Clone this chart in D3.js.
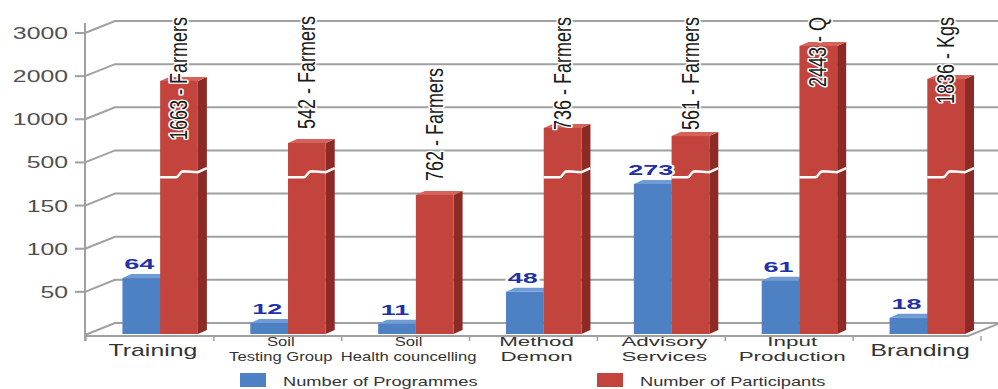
<!DOCTYPE html>
<html><head><meta charset="utf-8">
<script src="https://cdn.jsdelivr.net/npm/d3@7"></script>
<style>
html,body{margin:0;padding:0;background:#fff;}
svg{display:block;font-family:"Liberation Sans",Arial,sans-serif;}
</style>
</head><body>
<svg id="chart" width="998" height="389"></svg>
<script>
// ---------- data ----------
const categories = [["Training"],["Soil","Testing Group"],["Soil","Health councelling"],["Method","Demon"],["Advisory","Services"],["Input","Production"],["Branding"]];
const programmes = [64, 12, 11, 48, 273, 61, 18];               // label values
const programmesDrawn = [66, 14, 13, 50, 325, 63, 20];          // bar heights as read on the broken axis
const participants = [1663, 542, 762, 736, 561, 2443, 1836];    // label values
const participantUnits = ["Farmers","Farmers","Farmers","Farmers","Farmers","Q","Kgs"];
const participantsDrawn = [1890, 725, 236, 900, 806, 2700, 1933]; // bar heights as read on the broken axis
const yTicks = [50, 100, 150, 500, 1000, 2000, 3000];
const axisBreak = 380;
const seriesNames = ["Number of Programmes", "Number of Participants"];

// ---------- layout ----------
const svg = d3.select("#chart");
const W = 998;
const axisX = 85;
const yBottom = 335, yTop = 33;
const wallDX = 30, wallDY = -12;   // back-wall depth
const barDX = 9, barDY = -4;       // bar depth
const colors = {
  blue: "#4e80c4", blueTop: "#6f9bd6", blueSide: "#345f99",
  red: "#c2443d", redTop: "#d3635b", redSide: "#8c2b26"
};

const domainY = [0].concat(yTicks);
const y = d3.scaleLinear()
  .domain(domainY)
  .range(domainY.map((d, i) => yBottom - i * (yBottom - yTop) / (domainY.length - 1)));

const x = d3.scaleBand().domain(d3.range(categories.length)).range([86, 981]).paddingInner(0).paddingOuter(0);
const bw = x.bandwidth();
const xs = d3.scaleBand().domain([0, 1]).range([0.285 * bw, 0.285 * bw + 0.59 * bw]);
const sw = xs.bandwidth();

const gridColor = "#a0a0a0";

// ---------- grid / walls ----------
const grid = svg.append("g");
domainY.forEach(t => {
  const yy = y(t);
  grid.append("path")
    .attr("d", `M${axisX},${yy} L${axisX + wallDX},${yy + wallDY} L${W},${yy + wallDY}`)
    .attr("fill", "none").attr("stroke", gridColor).attr("stroke-width", 2);
});
// floor front edge
grid.append("path")
  .attr("d", `M${axisX},${yBottom + 1} L${W - wallDX},${yBottom + 1} L${W},${yBottom + 1 + wallDY}`)
  .attr("fill", "none").attr("stroke", gridColor).attr("stroke-width", 2);
// vertical axis
grid.append("line")
  .attr("x1", axisX).attr("x2", axisX).attr("y1", yTop - 10).attr("y2", yBottom + 6)
  .attr("stroke", gridColor).attr("stroke-width", 2);
// y ticks
yTicks.forEach(t => {
  grid.append("line").attr("x1", axisX - 10).attr("x2", axisX).attr("y1", y(t)).attr("y2", y(t))
    .attr("stroke", gridColor).attr("stroke-width", 2);
});
// category ticks
d3.range(categories.length + 1).forEach(i => {
  const bx = i < categories.length ? x(i) : x(categories.length - 1) + bw;
  grid.append("line").attr("x1", bx).attr("x2", bx).attr("y1", yBottom + 1).attr("y2", yBottom + 6)
    .attr("stroke", gridColor).attr("stroke-width", 1.5);
});

// y tick labels
svg.append("g").selectAll("text").data(yTicks).join("text")
  .attr("transform", d => `translate(68,${y(d) + 6}) scale(1.55,1)`)
  .attr("text-anchor", "end").attr("font-size", 16).attr("fill", "#505050")
  .text(d => d);

// ---------- bars ----------
function bar3d(g, bx, top, w, front, topC, side) {
  const bot = yBottom - 1;
  g.append("path")
    .attr("d", `M${bx + w},${top} L${bx + w + barDX},${top + barDY} L${bx + w + barDX},${bot + barDY} L${bx + w},${bot} Z`)
    .attr("fill", side);
  g.append("path")
    .attr("d", `M${bx},${top} L${bx + barDX},${top + barDY} L${bx + w + barDX},${top + barDY} L${bx + w},${top} Z`)
    .attr("fill", topC);
  g.append("rect").attr("x", bx).attr("y", top).attr("width", w).attr("height", bot - top).attr("fill", front);
}

const bars = svg.append("g");
categories.forEach((c, i) => {
  const bxB = x(i) + xs(0), bxR = x(i) + xs(1);
  bar3d(bars, bxB, y(programmesDrawn[i]), sw, colors.blue, colors.blueTop, colors.blueSide);
  bar3d(bars, bxR, y(participantsDrawn[i]), sw, colors.red, colors.redTop, colors.redSide);
  if (participantsDrawn[i] > axisBreak) {
    const yb = y(axisBreak);
    bars.append("path")
      .attr("d", `M${bxR},${yb} L${bxR + 0.42 * sw},${yb} C${bxR + 0.52 * sw},${yb} ${bxR + 0.5 * sw},${yb - 6} ${bxR + 0.62 * sw},${yb - 6} L${bxR + sw},${yb - 5} L${bxR + sw + barDX},${yb - 5 + barDY}`)
      .attr("fill", "none").attr("stroke", "#fff").attr("stroke-width", 2.4);
  }
});

// blue value labels
svg.append("g").selectAll("text").data(programmes).join("text")
  .attr("transform", (d, i) => `translate(${x(i) + xs(0) + sw / 2 - 2},${y(programmesDrawn[i]) - 9}) scale(1.8,1)`)
  .attr("text-anchor", "middle").attr("font-size", 15).attr("font-weight", "bold")
  .attr("fill", "#2230aa").attr("stroke", "#fff").attr("stroke-width", 3)
  .attr("paint-order", "stroke").attr("stroke-linejoin", "round")
  .text(d => d);

// red value labels (rotated)
const topLimit = 17;
const redLabels = svg.append("g");
participants.forEach((v, i) => {
  const cx = x(i) + xs(1) + sw / 2;
  const t = redLabels.append("text")
    .attr("font-size", 18).attr("fill", "#1a1a1a")
    .attr("stroke", "#fff").attr("stroke-width", 2.6).attr("paint-order", "stroke").attr("stroke-linejoin", "round")
    .attr("dy", "0.35em")
    .text(`${v} - ${participantUnits[i]}`);
  const len = t.node().getComputedTextLength();
  const barTopEdge = y(participantsDrawn[i]) + barDY;
  const start = barTopEdge - 10;
  if (start - len >= topLimit - 2) {
    t.attr("text-anchor", "start").attr("transform", `translate(${cx},${start}) rotate(-90) scale(1,1.28)`);
  } else {
    t.attr("text-anchor", "end").attr("transform", `translate(${cx},${topLimit}) rotate(-90) scale(1,1.28)`);
  }
});

// category labels
const catG = svg.append("g");
categories.forEach((lines, i) => {
  const cx = x(i) + bw / 2 + 3;
  const long = d3.max(lines, l => l.length) > 10;
  const fs = lines.length === 1 ? 16 : (long ? 12.5 : 13.5);
  const sx = lines.length === 1 ? 1.55 : (long ? 1.33 : 1.66);
  const baselines = lines.length === 1 ? [356] : [346, 361];
  lines.forEach((l, j) => {
    catG.append("text")
      .attr("transform", `translate(${cx},${baselines[j]}) scale(${sx},1)`)
      .attr("text-anchor", "middle").attr("font-size", fs).attr("fill", "#333")
      .text(l);
  });
});

// legend
const legend = svg.append("g");
const legendItems = [
  {name: seriesNames[0], color: colors.blue, x: 240},
  {name: seriesNames[1], color: colors.red, x: 597}
];
legendItems.forEach(d => {
  legend.append("rect").attr("x", d.x).attr("y", 373).attr("width", 26).attr("height", 14).attr("fill", d.color);
  legend.append("text").attr("transform", `translate(${d.x + 43},386) scale(1.46,1)`)
    .attr("font-size", 12.5).attr("fill", "#333").text(d.name);
});
</script>
</body></html>
